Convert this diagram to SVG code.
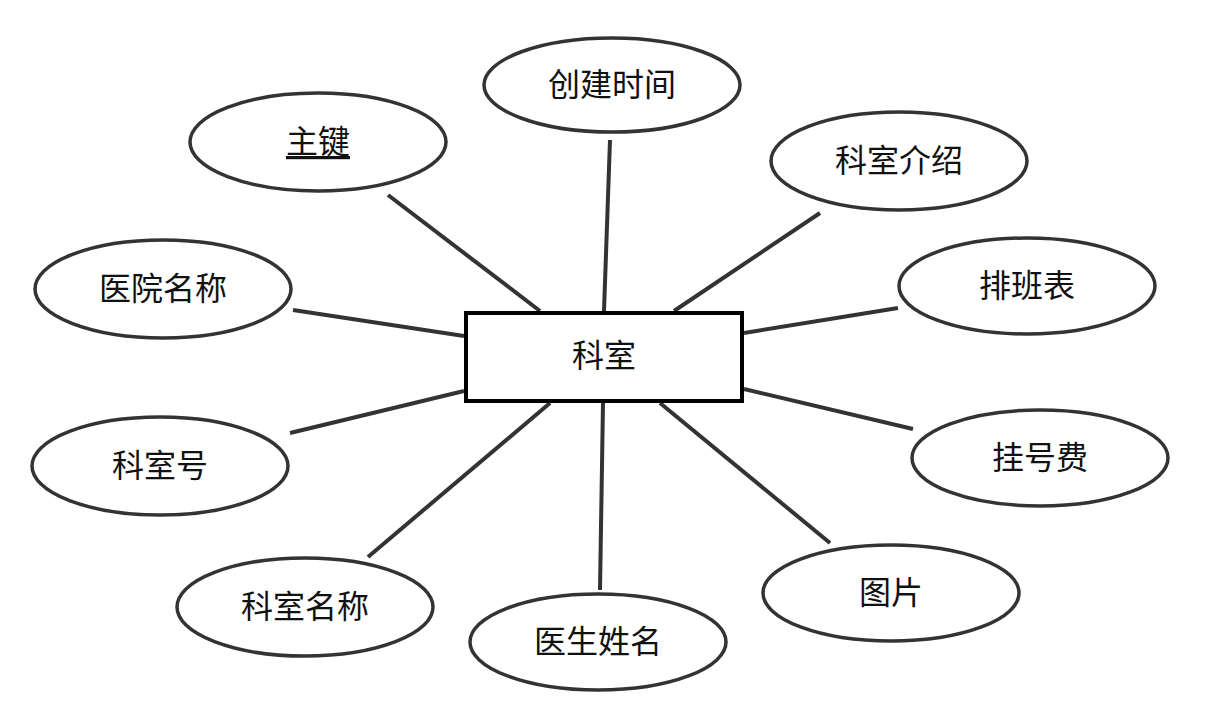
<svg xmlns="http://www.w3.org/2000/svg" width="1208" height="720" viewBox="0 0 1208 720">
<style>
.attr{fill:#fff;stroke:#333;stroke-width:3.5}
.ent{fill:#fff;stroke:#000;stroke-width:4}
.lbl{font-family:"Microsoft YaHei","Noto Sans CJK SC","Noto Sans",sans-serif;font-size:32px;fill:#111;text-anchor:middle;dominant-baseline:central}
#connectors line{stroke:#333;stroke-width:4}
</style>
<rect width="1208" height="720" fill="#fff"/>
<g id="connectors">
<line x1="388" y1="195" x2="540" y2="311"/>
<line x1="610" y1="140" x2="604" y2="311"/>
<line x1="820" y1="213" x2="674" y2="311"/>
<line x1="293" y1="310" x2="464" y2="336"/>
<line x1="898" y1="308" x2="744" y2="333"/>
<line x1="290" y1="433" x2="464" y2="391"/>
<line x1="913" y1="429" x2="744" y2="389"/>
<line x1="368" y1="557" x2="550" y2="403"/>
<line x1="600" y1="590" x2="603" y2="403"/>
<line x1="830" y1="543" x2="660" y2="403"/>
</g>
<g id="keshi">
<rect class="ent" x="466" y="313" width="276" height="88"/>
<text class="lbl" x="604" y="353">科室</text>
</g>
<g id="chuangjianshijian">
<ellipse class="attr" cx="612" cy="85" rx="128" ry="47"/>
<text class="lbl" x="612" y="82">创建时间</text>
</g>
<g id="zhujian">
<ellipse class="attr" cx="318" cy="142" rx="128" ry="49"/>
<text class="lbl" x="318" y="139" text-decoration="underline">主键</text>
</g>
<g id="keshijieshao">
<ellipse class="attr" cx="899" cy="161" rx="128" ry="49"/>
<text class="lbl" x="899" y="158">科室介绍</text>
</g>
<g id="yiyuanmingcheng">
<ellipse class="attr" cx="163" cy="289" rx="128" ry="49"/>
<text class="lbl" x="163" y="286">医院名称</text>
</g>
<g id="paibanbiao">
<ellipse class="attr" cx="1027" cy="286" rx="128" ry="48"/>
<text class="lbl" x="1027" y="283">排班表</text>
</g>
<g id="keshihao">
<ellipse class="attr" cx="160" cy="466" rx="128" ry="49"/>
<text class="lbl" x="160" y="463">科室号</text>
</g>
<g id="guahaofei">
<ellipse class="attr" cx="1040" cy="458" rx="128" ry="48"/>
<text class="lbl" x="1040" y="455">挂号费</text>
</g>
<g id="keshimingcheng">
<ellipse class="attr" cx="305" cy="607" rx="128" ry="49"/>
<text class="lbl" x="305" y="604">科室名称</text>
</g>
<g id="tupian">
<ellipse class="attr" cx="891" cy="593" rx="128" ry="48"/>
<text class="lbl" x="891" y="590">图片</text>
</g>
<g id="yishengxingming">
<ellipse class="attr" cx="598" cy="642" rx="128" ry="48"/>
<text class="lbl" x="598" y="639">医生姓名</text>
</g>
</svg>
